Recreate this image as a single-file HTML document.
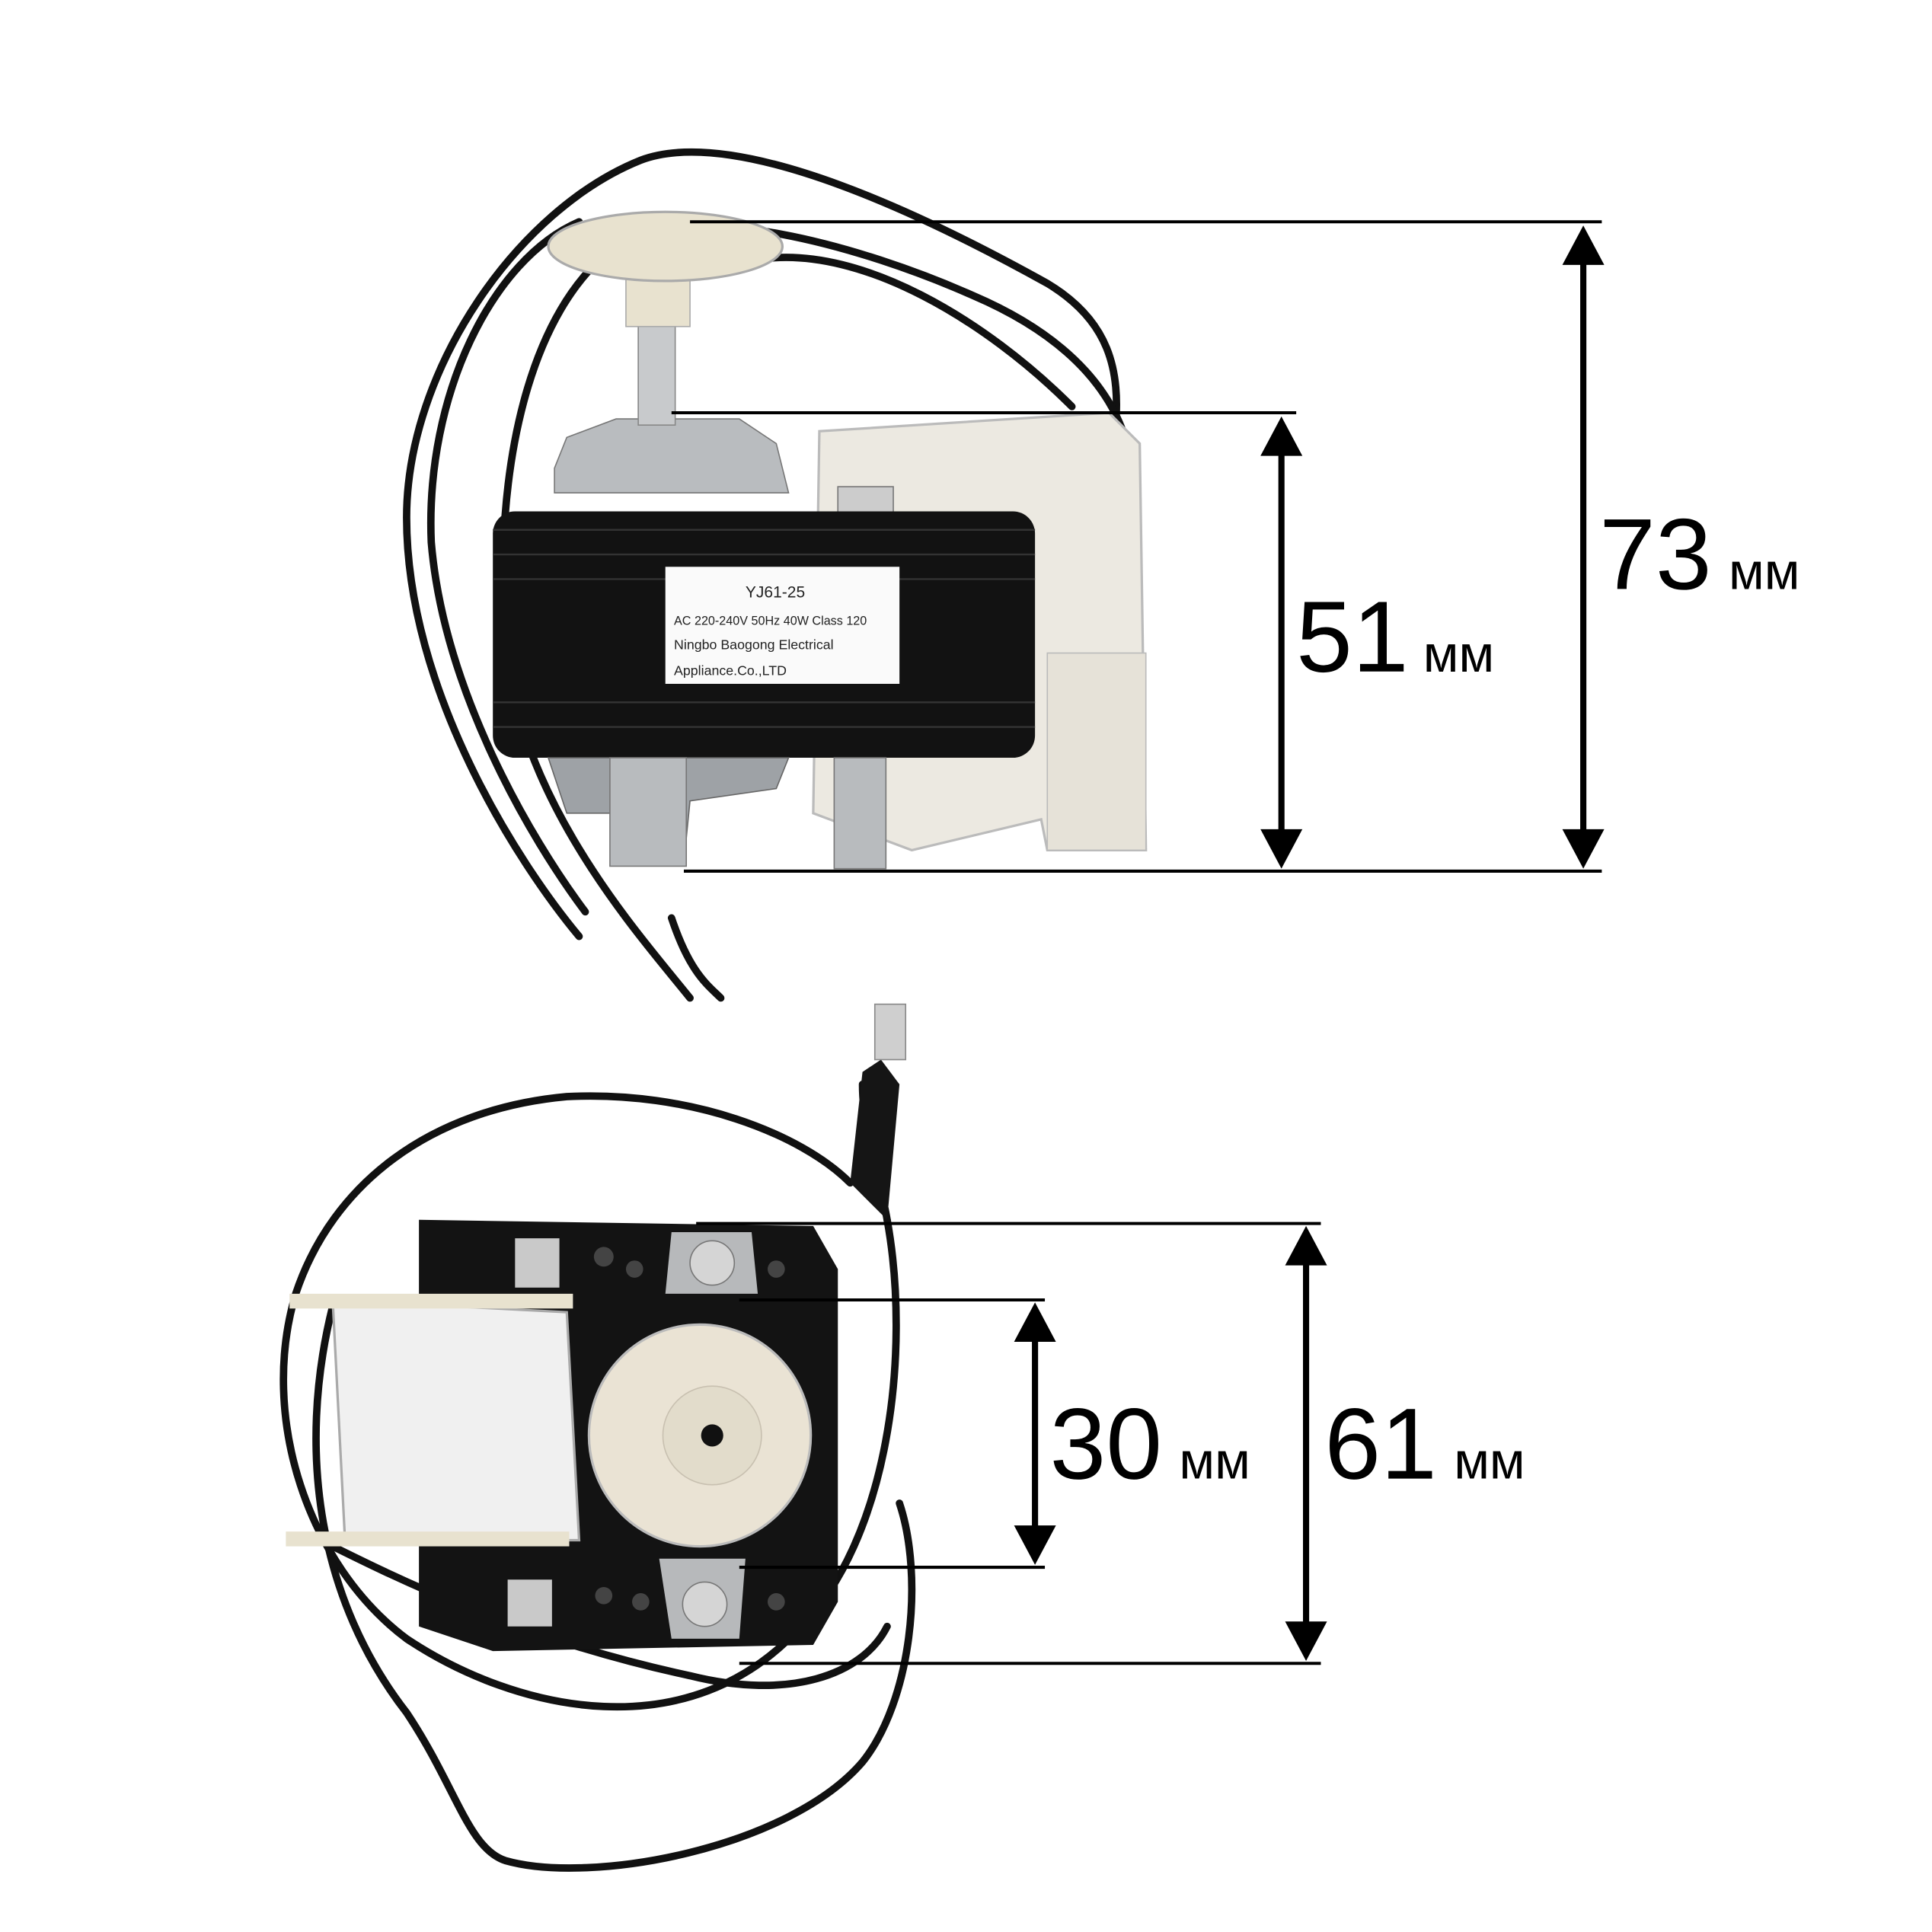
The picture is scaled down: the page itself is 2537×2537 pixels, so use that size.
<!DOCTYPE html>
<html><head><meta charset="utf-8"><style>
html,body{margin:0;padding:0;background:#fff}
svg{display:block}
</style></head><body>
<svg width="2537" height="2537" viewBox="0 0 1568 1568" xmlns="http://www.w3.org/2000/svg">
<rect width="1568" height="1568" fill="#fff"/>
<!-- TOP MOTOR wires -->
<g fill="none" stroke="#111" stroke-width="6" stroke-linecap="round">
<path d="M470 760 C420 700 330 560 330 420 C330 300 420 170 520 130 C600 100 760 180 850 230 C900 260 910 300 905 350"/>
<path d="M560 810 C520 760 420 650 410 520 C400 380 430 250 500 200 C560 160 700 200 790 240 C860 270 920 320 920 400 C920 460 900 490 880 510"/>
<path d="M475 740 C430 680 360 560 350 440 C345 320 400 210 470 180"/>
<path d="M545 745 C560 790 575 800 585 810"/>
<path d="M620 210 C700 200 800 260 870 330"/>
</g>
<!-- bracket -->
<path d="M665 350 L900 335 L925 360 L930 690 L850 690 L845 665 L740 690 L660 660 Z" fill="#ece9e1" stroke="#bbb" stroke-width="2"/>
<rect x="850" y="530" width="80" height="160" fill="#e6e2d8" stroke="#bbb"/>
<!-- hub -->
<path d="M450 380 L460 355 L500 340 L600 340 L630 360 L640 400 L450 400 Z" fill="#b9bcbf" stroke="#777"/>
<rect x="518" y="255" width="30" height="90" fill="#c8cacc" stroke="#888"/>
<rect x="508" y="220" width="52" height="45" fill="#e8e2cf" stroke="#aaa"/>
<ellipse cx="540" cy="200" rx="95" ry="28" fill="#e8e2cf" stroke="#aaa" stroke-width="2"/>
<rect x="680" y="395" width="45" height="30" fill="#ccc" stroke="#777"/>
<!-- body -->
<rect x="400" y="415" width="440" height="200" rx="18" fill="#121212"/>
<g stroke="#333" stroke-width="1.5">
<line x1="400" y1="430" x2="840" y2="430"/><line x1="400" y1="450" x2="840" y2="450"/><line x1="400" y1="470" x2="840" y2="470"/><line x1="400" y1="570" x2="840" y2="570"/><line x1="400" y1="590" x2="840" y2="590"/>
</g>
<rect x="540" y="460" width="190" height="95" fill="#fafafa"/>
<g font-family="Liberation Sans, sans-serif" fill="#222">
<text x="605" y="485" font-size="13">YJ61-25</text>
<text x="547" y="507" font-size="10">AC 220-240V 50Hz  40W Class 120</text>
<text x="547" y="527" font-size="11">Ningbo  Baogong  Electrical</text>
<text x="547" y="548" font-size="11">Appliance.Co.,LTD</text>
</g>
<path d="M445 615 L460 660 L500 660 L500 700 L555 700 L560 650 L630 640 L640 615 Z" fill="#9ea2a6" stroke="#666"/>
<rect x="495" y="615" width="62" height="88" fill="#b8bbbe" stroke="#777"/>
<rect x="677" y="615" width="42" height="90" fill="#b8bbbe" stroke="#777"/>
<!-- BOTTOM MOTOR -->
<g fill="none" stroke="#111" stroke-width="6" stroke-linecap="round">
<path d="M720 990 C740 1100 720 1250 650 1320 C560 1420 420 1390 330 1330 C250 1270 210 1150 240 1050 C270 960 350 900 460 890 C560 885 650 920 690 960"/>
<path d="M270 1060 C240 1180 260 1300 330 1390 C370 1450 380 1500 410 1510 C480 1530 640 1500 700 1430 C740 1380 750 1280 730 1220"/>
<path d="M260 1250 C320 1280 420 1330 560 1360 C640 1380 700 1360 720 1320"/>
<path d="M720 990 C715 960 700 920 700 880"/>
</g>
<path d="M690 960 L700 870 L715 860 L730 880 L720 990" fill="#151515"/>
<rect x="710" y="815" width="25" height="45" fill="#cfcfcf" stroke="#888"/>
<path d="M340 990 L660 995 L680 1030 L680 1300 L660 1335 L400 1340 L340 1320 Z" fill="#131313"/>
<g fill="#444"><circle cx="490" cy="1020" r="8"/><circle cx="515" cy="1030" r="7"/><circle cx="520" cy="1300" r="7"/><circle cx="490" cy="1295" r="7"/><circle cx="630" cy="1300" r="7"/><circle cx="630" cy="1030" r="7"/></g>
<rect x="418" y="1005" width="36" height="40" fill="#c9c9c9"/>
<rect x="412" y="1282" width="36" height="38" fill="#c9c9c9"/>
<path d="M545 1000 L610 1000 L615 1050 L540 1050 Z" fill="#b7b9bb"/>
<circle cx="578" cy="1025" r="18" fill="#d5d5d5" stroke="#777"/>
<path d="M535 1265 L605 1265 L600 1330 L545 1330 Z" fill="#b7b9bb"/>
<circle cx="572" cy="1302" r="18" fill="#d5d5d5" stroke="#777"/>
<path d="M270 1055 L460 1065 L470 1250 L280 1250 Z" fill="#f0f0f0" stroke="#aaa" stroke-width="2"/>
<rect x="235" y="1050" width="230" height="12" fill="#e8e2cf"/>
<rect x="232" y="1243" width="230" height="12" fill="#e8e2cf"/>
<circle cx="568" cy="1165" r="90" fill="#eae3d4" stroke="#bbb" stroke-width="2"/>
<circle cx="578" cy="1165" r="40" fill="#e2dccb" stroke="#c8c0b0"/>
<circle cx="578" cy="1165" r="9" fill="#111"/>
<!-- DIMENSIONS -->
<g stroke="#000" stroke-width="2.5">
<line x1="560" y1="180" x2="1300" y2="180"/>
<line x1="545" y1="335" x2="1052" y2="335"/>
<line x1="555" y1="707" x2="1300" y2="707"/>
<line x1="1285" y1="210" x2="1285" y2="680" stroke-width="5"/>
<line x1="1040" y1="365" x2="1040" y2="680" stroke-width="5"/>
<line x1="565" y1="993" x2="1072" y2="993"/>
<line x1="600" y1="1055" x2="848" y2="1055"/>
<line x1="600" y1="1272" x2="848" y2="1272"/>
<line x1="600" y1="1350" x2="1072" y2="1350"/>
<line x1="840" y1="1085" x2="840" y2="1245" stroke-width="5"/>
<line x1="1060" y1="1022" x2="1060" y2="1322" stroke-width="5"/>
</g>
<g fill="#000">
<path d="M1285 183 L1268 215 L1302 215 Z"/><path d="M1285 705 L1268 673 L1302 673 Z"/>
<path d="M1040 338 L1023 370 L1057 370 Z"/><path d="M1040 705 L1023 673 L1057 673 Z"/>
<path d="M840 1057 L823 1089 L857 1089 Z"/><path d="M840 1270 L823 1238 L857 1238 Z"/>
<path d="M1060 995 L1043 1027 L1077 1027 Z"/><path d="M1060 1348 L1043 1316 L1077 1316 Z"/>
</g>
<g font-family="Liberation Sans, sans-serif" fill="#000">
<text x="1298" y="478" font-size="82">73</text><text x="1403" y="478" font-size="42">мм</text>
<text x="1052" y="545" font-size="82">51</text><text x="1155" y="545" font-size="42">мм</text>
<text x="852" y="1200" font-size="82">30</text><text x="957" y="1200" font-size="42">мм</text>
<text x="1075" y="1200" font-size="82">61</text><text x="1180" y="1200" font-size="42">мм</text>
</g>
</svg>
</body></html>
